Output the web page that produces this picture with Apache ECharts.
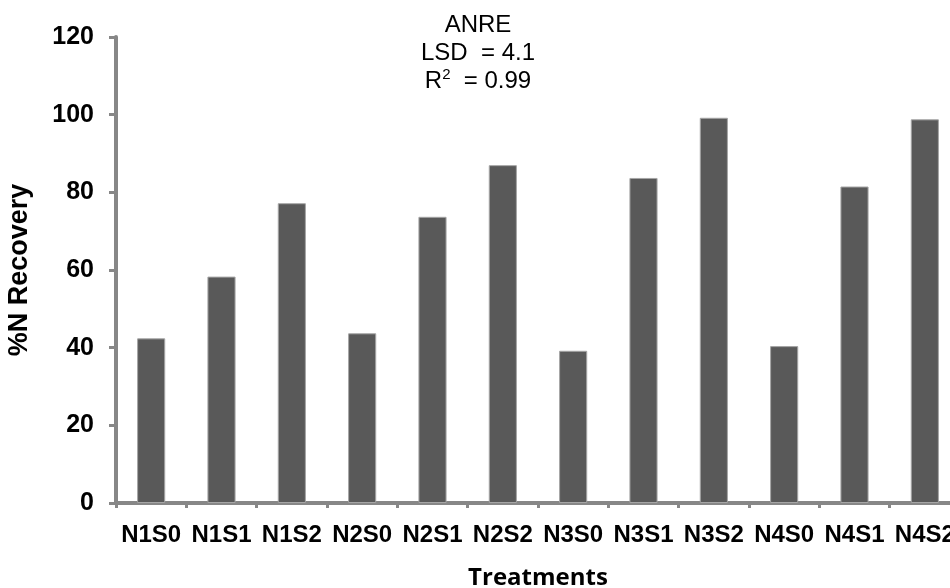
<!DOCTYPE html>
<html>
<head>
<meta charset="utf-8">
<title>ANRE - %N Recovery</title>
<script src="https://cdn.jsdelivr.net/npm/echarts@6/dist/echarts.min.js"></script>
<style>
  html, body { margin: 0; padding: 0; background: #fff; }
  #chart { width: 950px; height: 588px; }
</style>
</head>
<body>
<div id="chart"></div>
<script>
// treatments and their %N recovery
const treatments = ['N1S0', 'N1S1', 'N1S2', 'N2S0', 'N2S1', 'N2S2',
  'N3S0', 'N3S1', 'N3S2', 'N4S0', 'N4S1', 'N4S2']
const recovery = [42.4, 58.3, 77.2, 43.7, 73.7, 87.0, 39.2, 83.7, 99.2, 40.4, 81.5, 98.8]
const yTicks = [0, 20, 40, 60, 80, 100, 120]

const axisGray = '#878787'
const chart = echarts.init(document.getElementById('chart'))

chart.setOption({
  animation: false,
  title: {
    text: 'ANRE\nLSD  = 4.1\nR{sup|2}  = 0.99',
    left: 473,
    top: 6,
    textAlign: 'center',
    textStyle: {
      fontFamily: 'Liberation Sans, Arial, sans-serif',
      fontSize: 24,
      fontWeight: 'normal',
      color: '#000',
      lineHeight: 28,
      align: 'center',
      rich: {
        sup: { fontSize: 15, verticalAlign: 'top', lineHeight: 28, padding: [0, 0, 10, 0] }
      }
    }
  },
  // plot area runs past the right edge of the picture, as in the original
  grid: { left: 116, top: 37, width: 844, bottom: 85, containLabel: false, outerBoundsMode: 'none' },
  xAxis: {
    type: 'category',
    data: treatments,
    name: 'Treatments',
    nameLocation: 'middle',
    nameGap: 63,
    nameTextStyle: {
      fontFamily: 'Open Sans, sans-serif',
      fontSize: 24,
      fontWeight: 'bold',
      color: '#000'
    },
    axisLine: { lineStyle: { color: axisGray, width: 4 } },
    axisTick: { show: true, length: 5, lineStyle: { color: axisGray, width: 3 } },
    axisLabel: {
      interval: 0,
      margin: 20,
      fontFamily: 'Liberation Sans, Arial, sans-serif',
      fontSize: 24,
      fontWeight: 'bold',
      color: '#000'
    }
  },
  yAxis: {
    type: 'value',
    min: yTicks[0],
    max: yTicks[yTicks.length - 1],
    interval: 20,
    name: '%N Recovery',
    nameLocation: 'middle',
    nameGap: 83,
    nameTextStyle: {
      fontFamily: 'Liberation Sans, Arial, sans-serif',
      fontSize: 27,
      fontWeight: 'bold',
      color: '#000'
    },
    axisLine: { show: true, lineStyle: { color: axisGray, width: 4 } },
    axisTick: { show: true, length: 7, lineStyle: { color: axisGray, width: 3 } },
    splitLine: { show: false },
    axisLabel: {
      margin: 22,
      fontFamily: 'Liberation Sans, Arial, sans-serif',
      fontSize: 25,
      fontWeight: 'bold',
      color: '#000'
    }
  },
  series: [{
    type: 'bar',
    data: recovery,
    barWidth: '40%',
    itemStyle: { color: '#595959', borderColor: '#a6a6a6', borderWidth: 1 }
  }]
})
</script>
</body>
</html>
